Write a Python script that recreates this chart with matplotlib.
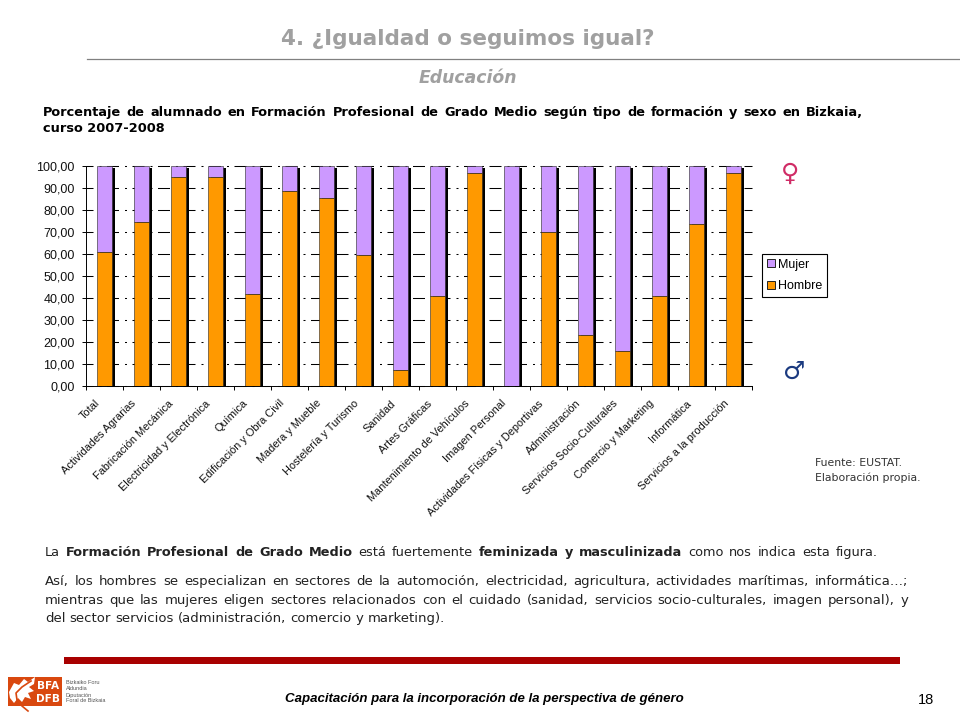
import matplotlib
matplotlib.use("Agg")
import numpy as np
import matplotlib.pyplot as plt
import matplotlib.patheffects as pe
from matplotlib.patches import Rectangle, Polygon
from matplotlib.transforms import ScaledTranslation

plt.rcParams['lines.scale_dashes'] = False

categorias = ['Total', 'Actividades Agrarias', 'Fabricación Mecánica', 'Electricidad y Electrónica',
              'Química', 'Edificación y Obra Civil', 'Madera y Mueble', 'Hostelería y Turismo',
              'Sanidad', 'Artes Gráficas', 'Mantenimiento de Vehículos', 'Imagen Personal',
              'Actividades Físicas y Deportivas', 'Administración', 'Servicios Socio-Culturales',
              'Comercio y Marketing', 'Informática', 'Servicios a la producción']
hombre = [61, 74.5, 95, 95, 42, 89, 85.5, 59.5, 7.5, 41, 97, 0, 70, 23.5, 16, 41, 74, 97]
mujer = [39, 25.5, 5, 5, 58, 11, 14.5, 40.5, 92.5, 59, 3, 100, 30, 76.5, 84, 59, 26, 3]
yticks = [0, 10, 20, 30, 40, 50, 60, 70, 80, 90, 100]
ylabels = ['0,00', '10,00', '20,00', '30,00', '40,00', '50,00', '60,00', '70,00', '80,00', '90,00', '100,00']

NARANJA = '#FF9900'
LILA = '#CC99FF'
GRIS = '#A0A0A0'
W, H = 960, 720


def px(v):
    return v * 0.72  # pixels to points at dpi 100


fig = plt.figure(figsize=(9.6, 7.2), dpi=100)
ax = fig.add_axes([85.7 / W, 1 - 386.3 / H, 666 / W, 220 / H])

x = np.arange(len(categorias))
ancho = 0.405
sombra = [pe.SimplePatchShadow(offset=(px(3.2), -px(1.2)), shadow_rgbFace='black', alpha=1), pe.Normal()]
barras_m = ax.bar(x, mujer, ancho, bottom=hombre, color=LILA, edgecolor='#222222', linewidth=0.4,
                  label='Mujer', zorder=2, path_effects=sombra)
barras_h = ax.bar(x, hombre, ancho, color=NARANJA, edgecolor='#222222', linewidth=0.4,
                  label='Hombre', zorder=2.1, path_effects=sombra)

ax.set_xlim(-0.5, len(categorias) - 0.5)
ax.set_ylim(0, 100)
ax.set_yticks(yticks)
ax.set_yticklabels(ylabels, fontfamily='Liberation Sans', fontsize=9, color='#111111')
ax.set_xticks(np.arange(len(categorias) + 1) - 0.5)
ax.set_xticklabels([])
ax.set_xticks(x, minor=True)
ax.set_xticklabels(categorias, minor=True, rotation=45, ha='right', rotation_mode='anchor',
                   fontfamily='Liberation Sans', fontsize=7.9, color='#111111')
ax.tick_params(axis='x', which='major', length=px(4), width=0.7)
ax.tick_params(axis='x', which='minor', length=0, pad=px(9))
ax.tick_params(axis='y', length=px(4), width=0.7, pad=px(7))
desplaza = ScaledTranslation(-10 / 100, -3 / 100, fig.dpi_scale_trans)
for t in ax.get_xticklabels(minor=True):
    t.set_transform(t.get_transform() + desplaza)
ax.spines['top'].set_visible(False)
ax.spines['right'].set_visible(False)
ax.spines['left'].set_linewidth(0.7)
ax.spines['bottom'].set_linewidth(0.7)
ax.set_axisbelow(True)
ax.yaxis.grid(True, color='black', linewidth=0.75,
              linestyle=(px(5), (px(12), px(6), px(2), px(5.5))))
ax.xaxis.grid(False)
for g in ax.get_ygridlines():
    g.set_clip_on(False)

leg = ax.legend([barras_m, barras_h], ['Mujer', 'Hombre'], loc='lower left',
                bbox_to_anchor=(762 / W, 1 - 297 / H, 65 / W, 42 / H), bbox_transform=fig.transFigure,
                borderaxespad=0, fancybox=False, edgecolor='black', framealpha=1,
                prop={'family': 'Liberation Sans', 'size': 9}, handlelength=0.62, handleheight=0.62,
                handletextpad=0.25, labelspacing=0.75, borderpad=0.4)
leg.get_frame().set_linewidth(0.8)
for h in leg.legend_handles:
    h.set_path_effects([])
    h.set_edgecolor('#222222')
    h.set_linewidth(0.7)

# capa en pixeles para los textos de la diapositiva
capa = fig.add_axes([0, 0, 1, 1], facecolor='none')
capa.set_xlim(0, W)
capa.set_ylim(H, 0)
capa.axis('off')
r = fig.canvas.get_renderer()


def ancho_txt(s, **kw):
    t = capa.text(0, 0, s, **kw)
    w = t.get_window_extent(r).width
    t.remove()
    return w


def linea(trozos, x0, x1, y, size=9.5, color='#222222'):
    # reparte las palabras entre x0 y x1 (texto justificado)
    pal = []
    for s, neg in trozos:
        for w in s.split():
            kw = dict(family='DejaVu Sans', fontsize=size, fontweight='bold' if neg else 'normal')
            pal.append((w, kw, ancho_txt(w, **kw)))
    total = sum(p[2] for p in pal)
    hueco = (x1 - x0 - total) / (len(pal) - 1)
    cx = x0
    for w, kw, a in pal:
        capa.text(cx, y + 4, w, color=color, va='baseline', ha='left', **kw)
        cx += a + hueco


capa.text(468, 39, '4. ¿Igualdad o seguimos igual?', family='DejaVu Sans', fontweight='bold',
          fontsize=15.5, color=GRIS, ha='center', va='center')
capa.plot([87, 960], [58.5, 58.5], color='#808080', lw=0.9)
capa.text(468, 78, 'Educación', family='DejaVu Sans', fontweight='bold', style='italic',
          fontsize=12.4, color=GRIS, ha='center', va='center')

linea([('Porcentaje de alumnado en Formación Profesional de Grado Medio según tipo de formación y sexo en Bizkaia,', True)],
      43, 863, 112, size=9.3, color='black')
capa.text(43, 132, 'curso 2007-2008', family='DejaVu Sans', fontweight='bold', fontsize=9.3,
          color='black', va='baseline')

linea([('La', False), ('Formación Profesional de Grado Medio', True), ('está fuertemente', False),
       ('feminizada y masculinizada', True), ('como nos indica esta figura.', False)], 45, 878, 552, size=9.3)
linea([('Así, los hombres se especializan en sectores de la automoción, electricidad, agricultura,  actividades marítimas, informática…;', False)],
      45, 908, 581)
linea([('mientras que las mujeres eligen sectores relacionados con el cuidado (sanidad, servicios socio-culturales, imagen personal), y', False)],
      45, 908, 600)
linea([('del sector servicios (administración, comercio y marketing).', False)], 45, 445, 618)

capa.text(815, 463, 'Fuente: EUSTAT.', family='DejaVu Sans', fontsize=7.8, color='#333333', va='center')
capa.text(815, 478, 'Elaboración propia.', family='DejaVu Sans', fontsize=7.8, color='#333333', va='center')

capa.text(790, 174, '♀', family='DejaVu Sans', fontsize=18, color='#D02C66', ha='center', va='center',
          fontweight='bold')
capa.text(794, 372, '♂', family='DejaVu Sans', fontsize=18, color='#1B3A80', ha='center', va='center',
          fontweight='bold')

capa.add_patch(Rectangle((64, 657), 836, 7, color='#A80000', lw=0))
capa.text(484.5, 699, 'Capacitación para la incorporación de la perspectiva de género', family='Liberation Sans',
          fontweight='bold', style='italic', fontsize=9.5, color='black', ha='center', va='center')
capa.text(926, 700, '18', family='Liberation Sans', fontsize=10.5, color='black', ha='center', va='center')

# logo
capa.add_patch(Rectangle((8, 677), 54, 29, color='#D9480F', lw=0))
capa.add_patch(Polygon([(9, 692), (14, 683), (19, 685), (24, 679), (28, 682), (35, 677), (34, 684), (29, 687),
                        (34, 691), (28, 693), (31, 699), (25, 697), (22, 702), (18, 698), (14, 703), (10, 698)],
                       color='white', lw=0))
capa.plot([31, 22, 16, 17, 22, 28], [681, 687, 693, 700, 706, 711], color='#D9480F', lw=1.2)
capa.text(48, 686, 'BFA', family='DejaVu Sans', fontweight='bold', fontsize=7.6, color='white', ha='center', va='center')
capa.text(48, 698.5, 'DFB', family='DejaVu Sans', fontweight='bold', fontsize=7.6, color='white', ha='center', va='center')
for yy, s in [(682, 'Bizkaiko Foru'), (688, 'Aldundia'), (695, 'Diputación'), (700, 'Foral de Bizkaia')]:
    capa.text(66, yy, s, family='Liberation Sans', fontsize=4, color='#555555', va='center')

fig.savefig('out.png', dpi=100)
